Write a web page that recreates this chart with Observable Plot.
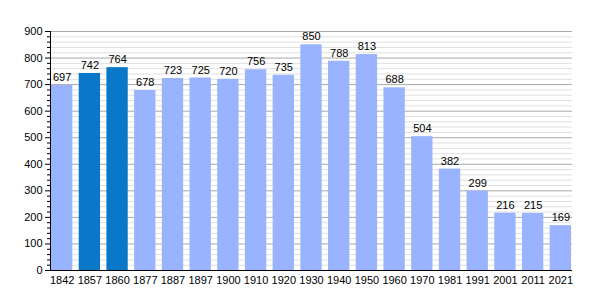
<!DOCTYPE html>
<html>
<head>
<meta charset="utf-8">
<script src="https://cdn.jsdelivr.net/npm/d3@7"></script>
<script src="https://cdn.jsdelivr.net/npm/@observablehq/plot@0.6"></script>
<style>
  html, body { margin: 0; padding: 0; background: #fff; }
  svg { display: block; }
</style>
</head>
<body>
<div id="chart"></div>
<script>
const years = ["1842","1857","1860","1877","1887","1897","1900","1910","1920","1930","1940","1950","1960","1970","1981","1991","2001","2011","2021"];
const population = [697,742,764,678,723,725,720,756,735,850,788,813,688,504,382,299,216,215,169];
const highlighted = ["1857","1860"];
const majorTicks = [0,100,200,300,400,500,600,700,800,900];
const minorTicks = d3.range(0, 901, 20).filter(v => v % 100 !== 0);

const data = years.map((y, i) => ({year: y, pop: population[i], hi: highlighted.includes(y)}));

const chart = Plot.plot({
  width: 600,
  height: 300,
  marginLeft: 50,
  marginRight: 28,
  marginTop: 31,
  marginBottom: 30,
  style: {fontFamily: "Liberation Sans, Arial, sans-serif", fontSize: "11px", color: "#000", background: "#fff"},
  x: {domain: years, paddingInner: 0.23, paddingOuter: 0, round: false, range: [51, 571], label: null},
  y: {domain: [0, 900], label: null},
  marks: [
    Plot.ruleY(minorTicks, {stroke: "#e0e0e0", strokeWidth: 1}),
    Plot.ruleY(majorTicks.filter(v => v > 0), {stroke: "#a8a8a8", strokeWidth: 1}),
    Plot.barY(data, {x: "year", y: "pop", fill: d => d.hi ? "#0a78c8" : "#99b3ff"}),
    Plot.text(data, {x: "year", y: "pop", text: d => String(d.pop), dy: -8, fill: "#000", fontSize: 11}),
    Plot.axisY(minorTicks, {tickSize: 3, tickFormat: () => "", stroke: "#000"}),
    Plot.axisY(majorTicks, {tickSize: 5, tickPadding: 3, stroke: "#000", fill: "#000", fontSize: 11}),
    Plot.axisX({tickSize: 0, tickPadding: 6, fill: "#000", fontSize: 11}),
    Plot.frame({anchor: "left", stroke: "#000"}),
    Plot.ruleY([0], {stroke: "#000"})
  ]
});
document.getElementById("chart").appendChild(chart);
</script>
</body>
</html>
